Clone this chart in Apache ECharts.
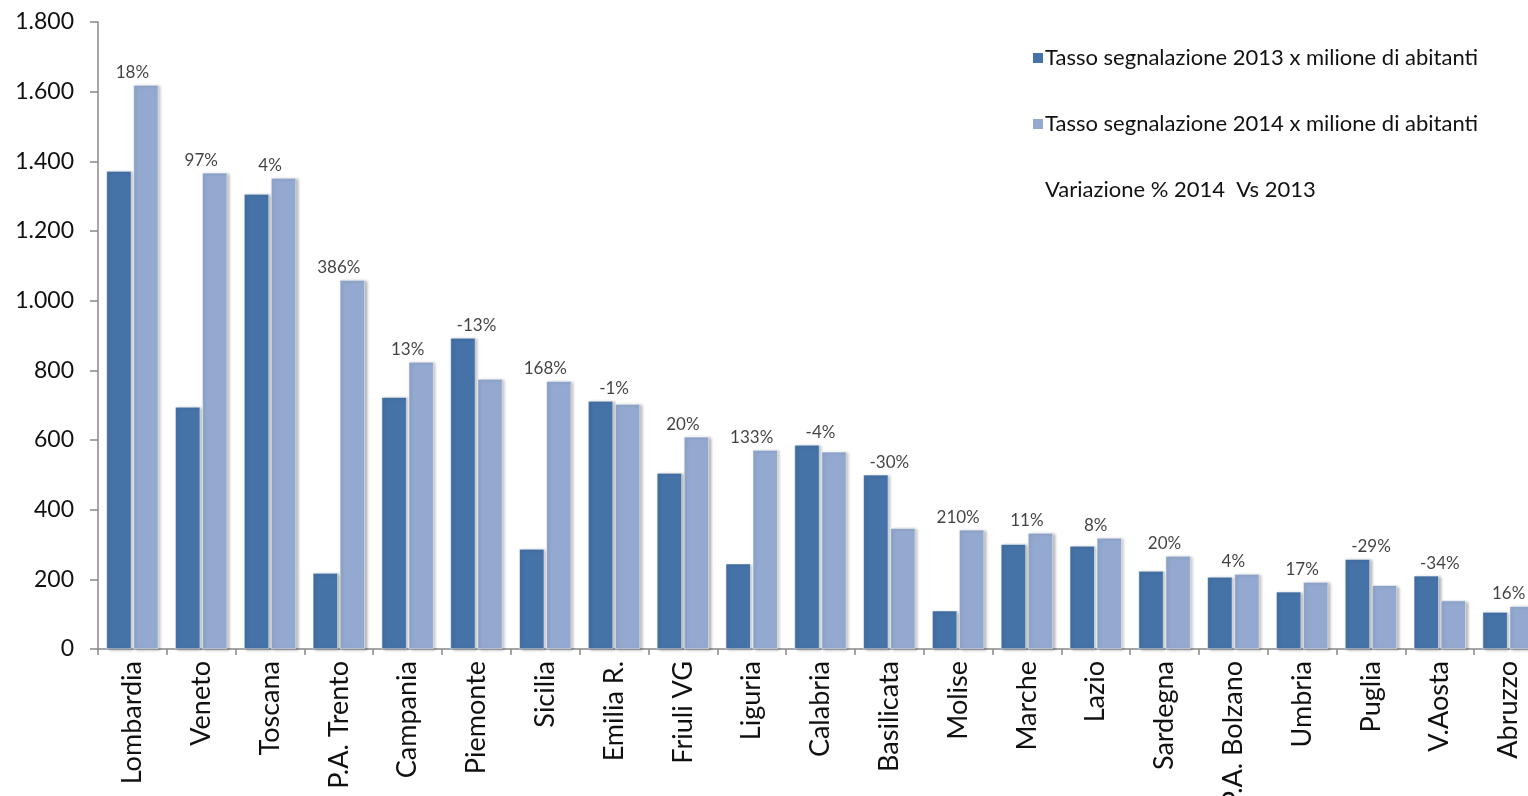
<!DOCTYPE html>
<html>
<head>
<meta charset="utf-8">
<script src="https://cdn.jsdelivr.net/npm/echarts@6/dist/echarts.min.js"></script>
<style>html,body{margin:0;padding:0;background:#fff}#c{width:1528px;height:796px}</style>
</head>
<body>
<div id="c"></div>
<script>
const categories = ["Lombardia","Veneto","Toscana","P.A. Trento","Campania","Piemonte","Sicilia","Emilia R.","Friuli VG","Liguria","Calabria","Basilicata","Molise","Marche","Lazio","Sardegna","P.A. Bolzano","Umbria","Puglia","V.Aosta","Abruzzo"];
const tasso2013 = [1372,695,1306,218,723,893,287,712,505,245,586,500,110,301,296,224,207,164,258,210,106];
const tasso2014 = [1619,1367,1352,1059,824,775,769,703,609,571,566,347,342,333,319,267,215,192,183,139,123];
const variazione = ["18%","97%","4%","386%","13%","-13%","168%","-1%","20%","133%","-4%","-30%","210%","11%","8%","20%","4%","17%","-29%","-34%","16%"];
const yTicks = [0,200,400,600,800,1000,1200,1400,1600,1800];

const FONT = "Lato";
const labelPos = tasso2013.map((v,i)=>({value: Math.max(v, tasso2014[i]), label: variazione[i]}));

const chart = echarts.init(document.getElementById('c'));
chart.setOption({
  animation: false,
  textStyle: {fontFamily: FONT},
  grid: {left: 98, right: -15, top: 22, bottom: 147, outerBoundsMode: 'none', containLabel: false},
  legend: {
    orient: 'vertical', left: 1026, top: 42, itemGap: 44,
    itemWidth: 12, itemHeight: 12,
    textStyle: {fontSize: 22, color: '#111', fontFamily: FONT, padding: [0,0,0,-4]},
    data: [
      {name: 'Tasso segnalazione 2013 x milione di abitanti', icon: 'rect'},
      {name: 'Tasso segnalazione 2014 x milione di abitanti', icon: 'rect'},
      {name: 'Variazione % 2014  Vs 2013', icon: 'none'}
    ]
  },
  xAxis: {
    type: 'category', data: categories,
    axisLine: {lineStyle: {color: '#888', width: 1.5}},
    axisTick: {show: true, length: 6, lineStyle: {color: '#888', width: 1.5}},
    axisLabel: {rotate: 90, fontSize: 27, color: '#111', margin: 12, fontFamily: FONT}
  },
  yAxis: {
    type: 'value', min: 0, max: 1800, interval: 200,
    axisLine: {show: true, lineStyle: {color: '#888', width: 1.5}},
    axisTick: {show: true, length: 8, lineStyle: {color: '#888', width: 1.5}},
    splitLine: {show: false},
    axisLabel: {fontSize: 23, color: '#111', margin: 24, fontFamily: FONT,
      formatter: v => yTicks.includes(v) ? String(v).replace(/\B(?=(\d{3})+(?!\d))/g, '.') : ''}
  },
  series: [
    {name: 'Tasso segnalazione 2013 x milione di abitanti', type: 'bar', data: tasso2013,
      barWidth: 25, barGap: '8%',
      itemStyle: {color: '#4572A7', borderColor: '#fff', borderWidth: 0.5,
        shadowColor: 'rgba(0,0,0,0.3)', shadowBlur: 3, shadowOffsetX: 2, shadowOffsetY: 1}},
    {name: 'Tasso segnalazione 2014 x milione di abitanti', type: 'bar', data: tasso2014,
      barWidth: 25,
      itemStyle: {color: '#93A9CF', borderColor: '#fff', borderWidth: 0.5,
        shadowColor: 'rgba(0,0,0,0.3)', shadowBlur: 3, shadowOffsetX: 2, shadowOffsetY: 1}},
    {name: 'Variazione % 2014  Vs 2013', type: 'scatter', symbolSize: 0,
      data: labelPos.map(d => d.value),
      label: {show: true, position: 'top', distance: 4, fontSize: 17, color: '#111', fontFamily: FONT,
        formatter: p => labelPos[p.dataIndex].label}}
  ]
});
</script>
</body>
</html>
